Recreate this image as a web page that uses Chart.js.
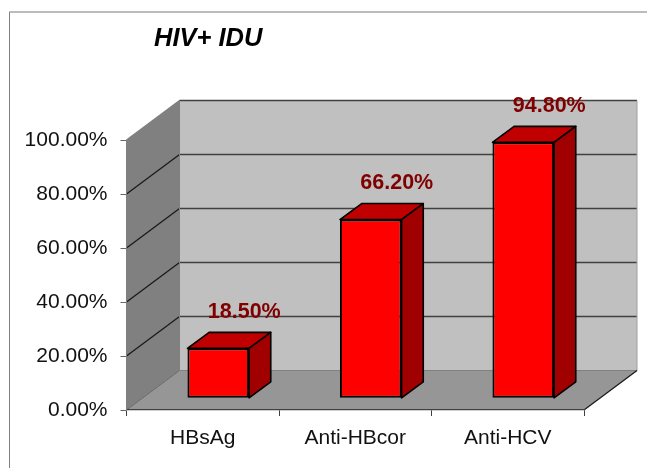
<!DOCTYPE html>
<html>
<head>
<meta charset="utf-8">
<style>
  html, body { margin: 0; padding: 0; background: #fff; }
  canvas { display: block; }
</style>
<script src="https://cdn.jsdelivr.net/npm/chart.js@4"></script>
</head>
<body>
<canvas id="chart" width="647" height="468"></canvas>
<script>
const chartTitle = "HIV+ IDU";
const categories = ["HBsAg", "Anti-HBcor", "Anti-HCV"];
const values = [18.5, 66.2, 94.8];
const valueLabels = ["18.50%", "66.20%", "94.80%"];
const yTickLabels = ["0.00%", "20.00%", "40.00%", "60.00%", "80.00%", "100.00%"];

const FONT = '"Liberation Sans", Arial, sans-serif';
// how far the back wall and the bars sit behind the front plane
const wallDx = 53, wallDy = 39.5;
const barDx = 15.5, barDy = 11.7;
const depthDx = 21.7, depthDy = 16;

function poly(ctx, pts, fill, stroke, lw) {
  ctx.beginPath();
  pts.forEach((p, i) => (i ? ctx.lineTo(p[0], p[1]) : ctx.moveTo(p[0], p[1])));
  ctx.closePath();
  if (fill) { ctx.fillStyle = fill; ctx.fill(); }
  if (stroke) { ctx.strokeStyle = stroke; ctx.lineWidth = lw || 1; ctx.stroke(); }
}

function line(ctx, x1, y1, x2, y2, color, lw) {
  ctx.beginPath();
  ctx.moveTo(x1, y1);
  ctx.lineTo(x2, y2);
  ctx.strokeStyle = color;
  ctx.lineWidth = lw || 1;
  ctx.stroke();
}

const box3d = {
  id: "box3d",
  beforeDraw(chart) {
    const { ctx, chartArea: a, scales: { y } } = chart;
    ctx.save();
    // page frame
    line(ctx, 9.5, 12, 9.5, 468, "#808080", 1);
    line(ctx, 9, 12, 647, 12, "#a6a6a6", 1.5);

    const top = y.getPixelForValue(100), zero = y.getPixelForValue(0);
    // back wall, side wall, floor
    poly(ctx, [[a.left + wallDx, top - wallDy], [a.right + wallDx, top - wallDy],
               [a.right + wallDx, zero - wallDy], [a.left + wallDx, zero - wallDy]], "#c0c0c0");
    poly(ctx, [[a.left, top], [a.left + wallDx, top - wallDy],
               [a.left + wallDx, zero - wallDy], [a.left, zero]], "#808080");
    poly(ctx, [[a.left, zero], [a.left + wallDx, zero - wallDy],
               [a.right + wallDx, zero - wallDy], [a.right, zero]], "#969696");

    // gridlines run along the side wall and then the back wall
    y.ticks.forEach(t => {
      const py = y.getPixelForValue(t.value);
      if (t.value === 0) return;
      line(ctx, a.left, py, a.left + wallDx, py - wallDy, t.value === 100 ? "#808080" : "#1a1a1a", 1.3);
      line(ctx, a.left + wallDx, py - wallDy, a.right + wallDx, py - wallDy, "#404040", 1.3);
    });
    line(ctx, a.left, zero, a.left + wallDx, zero - wallDy, "#666666");
    line(ctx, a.left + wallDx, zero - wallDy, a.right + wallDx, zero - wallDy, "#808080");
    line(ctx, a.left + wallDx, top - wallDy, a.left + wallDx, zero - wallDy, "#808080");
    line(ctx, a.right + wallDx, top - wallDy, a.right + wallDx, zero - wallDy, "#a0a0a0");
    line(ctx, a.right, zero, a.right + wallDx, zero - wallDy, "#1a1a1a", 1.3);
    ctx.restore();
  },
  beforeDatasetsDraw(chart) {
    chart.ctx.save();
    chart.ctx.translate(barDx, -barDy);
  },
  afterDatasetsDraw(chart) {
    const ctx = chart.ctx;
    ctx.restore();
    ctx.save();
    ctx.lineJoin = "round";
    chart.getDatasetMeta(0).data.forEach((bar, i) => {
      const l = bar.x - bar.width / 2 + barDx, r = bar.x + bar.width / 2 + barDx;
      const t = bar.y - barDy, b = bar.base - barDy;
      poly(ctx, [[l, t], [l + depthDx, t - depthDy], [r + depthDx, t - depthDy], [r, t]], "#c00000", "#000", 1.6);
      poly(ctx, [[r, t], [r + depthDx, t - depthDy], [r + depthDx, b - depthDy], [r, b]], "#a00000", "#000", 1.6);
      // value label
      ctx.font = "bold 21.5px " + FONT;
      ctx.fillStyle = "#800000";
      ctx.textAlign = "center";
      ctx.textBaseline = "middle";
      ctx.fillText(valueLabels[i], (l + r) / 2 + 26, t - 36);
    });
    // title
    ctx.font = "italic bold 25.5px " + FONT;
    ctx.fillStyle = "#000";
    ctx.textAlign = "left";
    ctx.textBaseline = "middle";
    ctx.fillText(chartTitle, 154, 38.5);
    ctx.restore();
  }
};

new Chart(document.getElementById("chart"), {
  type: "bar",
  data: {
    labels: categories,
    datasets: [{
      data: values,
      backgroundColor: "#ff0000",
      borderColor: "#000000",
      borderWidth: 2,
      borderSkipped: false,
      barPercentage: 0.404,
      categoryPercentage: 1,
      clip: false
    }]
  },
  options: {
    responsive: false,
    animation: false,
    layout: { padding: { top: 140, right: 63, left: 0, bottom: 0 } },
    plugins: { legend: { display: false }, tooltip: { enabled: false }, title: { display: false } },
    scales: {
      x: {
        afterFit: s => { s.height = 58; },
        grid: { drawOnChartArea: false, color: "#404040", tickLength: 6 },
        border: { color: "#404040", width: 1.3 },
        ticks: { color: "#111", font: { family: FONT, size: 21 }, padding: 10, maxRotation: 0, autoSkip: false }
      },
      y: {
        min: 0,
        max: 100,
        afterFit: s => { s.width = 126.5; },
        grid: { drawOnChartArea: false, color: "#666666", tickLength: 6 },
        border: { color: "#808080" },
        ticks: {
          stepSize: 20,
          color: "#111",
          font: { family: FONT, size: 21 },
          padding: 13,
          callback: (v, i) => yTickLabels[i]
        }
      }
    }
  },
  plugins: [box3d]
});
</script>
</body>
</html>
